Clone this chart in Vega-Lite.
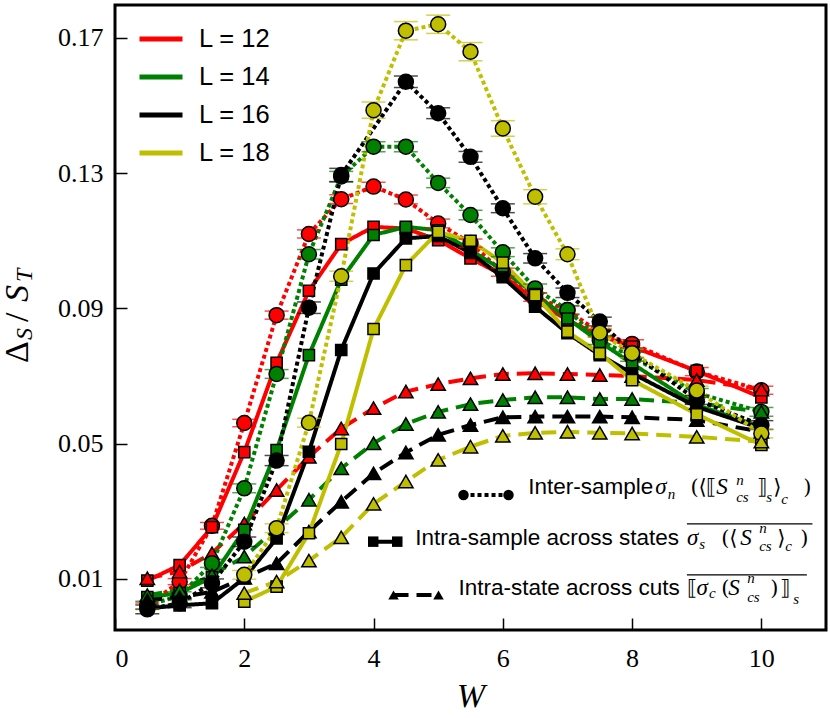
{
  "$schema": "https://vega.github.io/schema/vega-lite/v6.json",
  "width": 711,
  "height": 625,
  "autosize": {"type": "none"},
  "padding": {"left": 115, "top": 5, "right": 4, "bottom": 88},
  "background": "white",
  "config": {
    "view": {"stroke": "black", "strokeWidth": 3},
    "axis": {
      "grid": false, "domain": false,
      "tickColor": "black", "tickWidth": 1.5, "tickSize": -12,
      "labelFont": "'Liberation Serif', 'DejaVu Serif', serif", "labelFontSize": 26, "labelColor": "black",
      "titleFont": "'Liberation Serif', 'DejaVu Serif', serif", "titleColor": "black"
    },
    "legend": {
      "orient": "none", "legendX": 22, "legendY": 10, "title": null, "padding": 0,
      "symbolType": "stroke", "symbolSize": 1849, "symbolStrokeWidth": 5,
      "labelFont": "'Liberation Sans', Arial, sans-serif", "labelFontSize": 25.5, "labelColor": "black",
      "labelOffset": 14, "rowPadding": -6
    }
  },
  "resolve": {"scale": {"size": "independent"}},
  "datasets": {
    "series": [
      {"L":12,"kind":"inter","W":0.5,"v":0.002,"err":0.0009},
      {"L":12,"kind":"inter","W":1,"v":0.0092,"err":0.0009},
      {"L":12,"kind":"inter","W":1.5,"v":0.0257,"err":0.001},
      {"L":12,"kind":"inter","W":2,"v":0.0561,"err":0.0011},
      {"L":12,"kind":"inter","W":2.5,"v":0.088,"err":0.0012},
      {"L":12,"kind":"inter","W":3,"v":0.112,"err":0.0012},
      {"L":12,"kind":"inter","W":3.5,"v":0.1223,"err":0.0013},
      {"L":12,"kind":"inter","W":4,"v":0.126,"err":0.0013},
      {"L":12,"kind":"inter","W":4.5,"v":0.1222,"err":0.0013},
      {"L":12,"kind":"inter","W":5,"v":0.1151,"err":0.0013},
      {"L":12,"kind":"inter","W":5.5,"v":0.1093,"err":0.0012},
      {"L":12,"kind":"inter","W":6,"v":0.1007,"err":0.0012},
      {"L":12,"kind":"inter","W":6.5,"v":0.0933,"err":0.0012},
      {"L":12,"kind":"inter","W":7,"v":0.0895,"err":0.0012},
      {"L":12,"kind":"inter","W":7.5,"v":0.0827,"err":0.0012},
      {"L":12,"kind":"inter","W":8,"v":0.0795,"err":0.0012},
      {"L":12,"kind":"inter","W":9,"v":0.0713,"err":0.0012},
      {"L":12,"kind":"inter","W":10,"v":0.0658,"err":0.0012},
      {"L":12,"kind":"states","W":0.5,"v":0.0095},
      {"L":12,"kind":"states","W":1,"v":0.0141},
      {"L":12,"kind":"states","W":1.5,"v":0.0253},
      {"L":12,"kind":"states","W":2,"v":0.0475},
      {"L":12,"kind":"states","W":2.5,"v":0.0739},
      {"L":12,"kind":"states","W":3,"v":0.0952},
      {"L":12,"kind":"states","W":3.5,"v":0.109},
      {"L":12,"kind":"states","W":4,"v":0.1141},
      {"L":12,"kind":"states","W":4.5,"v":0.1136},
      {"L":12,"kind":"states","W":5,"v":0.1102},
      {"L":12,"kind":"states","W":5.5,"v":0.1048},
      {"L":12,"kind":"states","W":6,"v":0.0998},
      {"L":12,"kind":"states","W":6.5,"v":0.0924},
      {"L":12,"kind":"states","W":7,"v":0.0865},
      {"L":12,"kind":"states","W":7.5,"v":0.082},
      {"L":12,"kind":"states","W":8,"v":0.0787},
      {"L":12,"kind":"states","W":9,"v":0.0715},
      {"L":12,"kind":"states","W":10,"v":0.0637},
      {"L":12,"kind":"cuts","W":0.5,"v":0.0102},
      {"L":12,"kind":"cuts","W":1,"v":0.0122},
      {"L":12,"kind":"cuts","W":1.5,"v":0.0176},
      {"L":12,"kind":"cuts","W":2,"v":0.0264},
      {"L":12,"kind":"cuts","W":2.5,"v":0.0363},
      {"L":12,"kind":"cuts","W":3,"v":0.0461},
      {"L":12,"kind":"cuts","W":3.5,"v":0.0545},
      {"L":12,"kind":"cuts","W":4,"v":0.0605},
      {"L":12,"kind":"cuts","W":4.5,"v":0.0654},
      {"L":12,"kind":"cuts","W":5,"v":0.0676},
      {"L":12,"kind":"cuts","W":5.5,"v":0.0693},
      {"L":12,"kind":"cuts","W":6,"v":0.0706},
      {"L":12,"kind":"cuts","W":6.5,"v":0.0708},
      {"L":12,"kind":"cuts","W":7,"v":0.0706},
      {"L":12,"kind":"cuts","W":7.5,"v":0.0703},
      {"L":12,"kind":"cuts","W":8,"v":0.07},
      {"L":12,"kind":"cuts","W":9,"v":0.0688},
      {"L":12,"kind":"cuts","W":10,"v":0.066},
      {"L":14,"kind":"inter","W":0.5,"v":0.0022,"err":0.0012},
      {"L":14,"kind":"inter","W":1,"v":0.005,"err":0.0012},
      {"L":14,"kind":"inter","W":1.5,"v":0.0146,"err":0.0012},
      {"L":14,"kind":"inter","W":2,"v":0.0368,"err":0.0013},
      {"L":14,"kind":"inter","W":2.5,"v":0.0706,"err":0.0013},
      {"L":14,"kind":"inter","W":3,"v":0.106,"err":0.0014},
      {"L":14,"kind":"inter","W":3.5,"v":0.129,"err":0.0015},
      {"L":14,"kind":"inter","W":4,"v":0.1378,"err":0.0015},
      {"L":14,"kind":"inter","W":4.5,"v":0.1378,"err":0.0015},
      {"L":14,"kind":"inter","W":5,"v":0.1271,"err":0.0014},
      {"L":14,"kind":"inter","W":5.5,"v":0.1176,"err":0.0014},
      {"L":14,"kind":"inter","W":6,"v":0.1066,"err":0.0013},
      {"L":14,"kind":"inter","W":6.5,"v":0.0959,"err":0.0013},
      {"L":14,"kind":"inter","W":7,"v":0.0895,"err":0.0013},
      {"L":14,"kind":"inter","W":7.5,"v":0.0806,"err":0.0013},
      {"L":14,"kind":"inter","W":8,"v":0.0757,"err":0.0013},
      {"L":14,"kind":"inter","W":9,"v":0.065,"err":0.0013},
      {"L":14,"kind":"inter","W":10,"v":0.0594,"err":0.0013},
      {"L":14,"kind":"states","W":0.5,"v":0.0046},
      {"L":14,"kind":"states","W":1,"v":0.0058},
      {"L":14,"kind":"states","W":1.5,"v":0.0105},
      {"L":14,"kind":"states","W":2,"v":0.0245},
      {"L":14,"kind":"states","W":2.5,"v":0.0481},
      {"L":14,"kind":"states","W":3,"v":0.0762},
      {"L":14,"kind":"states","W":3.5,"v":0.0985},
      {"L":14,"kind":"states","W":4,"v":0.1117},
      {"L":14,"kind":"states","W":4.5,"v":0.1141},
      {"L":14,"kind":"states","W":5,"v":0.1131},
      {"L":14,"kind":"states","W":5.5,"v":0.1072},
      {"L":14,"kind":"states","W":6,"v":0.1013},
      {"L":14,"kind":"states","W":6.5,"v":0.0942},
      {"L":14,"kind":"states","W":7,"v":0.087},
      {"L":14,"kind":"states","W":7.5,"v":0.0801},
      {"L":14,"kind":"states","W":8,"v":0.0737},
      {"L":14,"kind":"states","W":9,"v":0.0614},
      {"L":14,"kind":"states","W":10,"v":0.055},
      {"L":14,"kind":"cuts","W":0.5,"v":0.0052},
      {"L":14,"kind":"cuts","W":1,"v":0.0067},
      {"L":14,"kind":"cuts","W":1.5,"v":0.0111},
      {"L":14,"kind":"cuts","W":2,"v":0.0166},
      {"L":14,"kind":"cuts","W":2.5,"v":0.025},
      {"L":14,"kind":"cuts","W":3,"v":0.0334},
      {"L":14,"kind":"cuts","W":3.5,"v":0.0427},
      {"L":14,"kind":"cuts","W":4,"v":0.0501},
      {"L":14,"kind":"cuts","W":4.5,"v":0.0558},
      {"L":14,"kind":"cuts","W":5,"v":0.0594},
      {"L":14,"kind":"cuts","W":5.5,"v":0.0617},
      {"L":14,"kind":"cuts","W":6,"v":0.0629},
      {"L":14,"kind":"cuts","W":6.5,"v":0.0637},
      {"L":14,"kind":"cuts","W":7,"v":0.0637},
      {"L":14,"kind":"cuts","W":7.5,"v":0.0632},
      {"L":14,"kind":"cuts","W":8,"v":0.0632},
      {"L":14,"kind":"cuts","W":9,"v":0.062},
      {"L":14,"kind":"cuts","W":10,"v":0.0594},
      {"L":16,"kind":"inter","W":0.5,"v":0.001,"err":0.0013},
      {"L":16,"kind":"inter","W":1,"v":0.0028,"err":0.0013},
      {"L":16,"kind":"inter","W":1.5,"v":0.0087,"err":0.0013},
      {"L":16,"kind":"inter","W":2,"v":0.021,"err":0.0014},
      {"L":16,"kind":"inter","W":2.5,"v":0.045,"err":0.0015},
      {"L":16,"kind":"inter","W":3,"v":0.0902,"err":0.0017},
      {"L":16,"kind":"inter","W":3.5,"v":0.1294,"err":0.002},
      {"L":16,"kind":"inter","W":4.5,"v":0.157,"err":0.0017},
      {"L":16,"kind":"inter","W":5,"v":0.1477,"err":0.0016},
      {"L":16,"kind":"inter","W":5.5,"v":0.1348,"err":0.0016},
      {"L":16,"kind":"inter","W":6,"v":0.1196,"err":0.0013},
      {"L":16,"kind":"inter","W":6.5,"v":0.1048,"err":0.0014},
      {"L":16,"kind":"inter","W":7,"v":0.0946,"err":0.0014},
      {"L":16,"kind":"inter","W":7.5,"v":0.0861,"err":0.0013},
      {"L":16,"kind":"inter","W":8,"v":0.0768,"err":0.0013},
      {"L":16,"kind":"inter","W":9,"v":0.0629,"err":0.0013},
      {"L":16,"kind":"inter","W":10,"v":0.0555,"err":0.0013},
      {"L":16,"kind":"states","W":0.5,"v":0.0013},
      {"L":16,"kind":"states","W":1,"v":0.0022},
      {"L":16,"kind":"states","W":1.5,"v":0.0028},
      {"L":16,"kind":"states","W":2,"v":0.0102},
      {"L":16,"kind":"states","W":2.5,"v":0.022},
      {"L":16,"kind":"states","W":3,"v":0.0476},
      {"L":16,"kind":"states","W":3.5,"v":0.0777},
      {"L":16,"kind":"states","W":4,"v":0.1003},
      {"L":16,"kind":"states","W":4.5,"v":0.1107},
      {"L":16,"kind":"states","W":5,"v":0.1114},
      {"L":16,"kind":"states","W":5.5,"v":0.1064},
      {"L":16,"kind":"states","W":6,"v":0.0992},
      {"L":16,"kind":"states","W":6.5,"v":0.0905},
      {"L":16,"kind":"states","W":7,"v":0.0827},
      {"L":16,"kind":"states","W":7.5,"v":0.0762},
      {"L":16,"kind":"states","W":8,"v":0.0708},
      {"L":16,"kind":"states","W":9,"v":0.0609},
      {"L":16,"kind":"states","W":10,"v":0.0545},
      {"L":16,"kind":"cuts","W":0.5,"v":0.0037},
      {"L":16,"kind":"cuts","W":1,"v":0.0046},
      {"L":16,"kind":"cuts","W":1.5,"v":0.0062},
      {"L":16,"kind":"cuts","W":2,"v":0.0103},
      {"L":16,"kind":"cuts","W":2.5,"v":0.0146},
      {"L":16,"kind":"cuts","W":3,"v":0.024},
      {"L":16,"kind":"cuts","W":3.5,"v":0.0328},
      {"L":16,"kind":"cuts","W":4,"v":0.0412},
      {"L":16,"kind":"cuts","W":4.5,"v":0.0474},
      {"L":16,"kind":"cuts","W":5,"v":0.0526},
      {"L":16,"kind":"cuts","W":5.5,"v":0.0555},
      {"L":16,"kind":"cuts","W":6,"v":0.0578},
      {"L":16,"kind":"cuts","W":6.5,"v":0.058},
      {"L":16,"kind":"cuts","W":7,"v":0.058},
      {"L":16,"kind":"cuts","W":7.5,"v":0.058},
      {"L":16,"kind":"cuts","W":8,"v":0.0578},
      {"L":16,"kind":"cuts","W":9,"v":0.057},
      {"L":16,"kind":"cuts","W":10,"v":0.0535},
      {"L":18,"kind":"inter","W":2,"v":0.0112,"err":0.0013},
      {"L":18,"kind":"inter","W":2.5,"v":0.025,"err":0.0013},
      {"L":18,"kind":"inter","W":3,"v":0.0562,"err":0.0013},
      {"L":18,"kind":"inter","W":3.5,"v":0.0995,"err":0.0015},
      {"L":18,"kind":"inter","W":4,"v":0.1486,"err":0.0024},
      {"L":18,"kind":"inter","W":4.5,"v":0.1721,"err":0.0027},
      {"L":18,"kind":"inter","W":5,"v":0.174,"err":0.0027},
      {"L":18,"kind":"inter","W":5.5,"v":0.1659,"err":0.0027},
      {"L":18,"kind":"inter","W":6,"v":0.1432,"err":0.0023},
      {"L":18,"kind":"inter","W":6.5,"v":0.123,"err":0.0021},
      {"L":18,"kind":"inter","W":7,"v":0.106,"err":0.0016},
      {"L":18,"kind":"inter","W":7.5,"v":0.0828,"err":0.0013},
      {"L":18,"kind":"inter","W":8,"v":0.0767,"err":0.0013},
      {"L":18,"kind":"inter","W":9,"v":0.0657,"err":0.0013},
      {"L":18,"kind":"inter","W":10,"v":0.053,"err":0.0013},
      {"L":18,"kind":"states","W":2,"v":0.0033},
      {"L":18,"kind":"states","W":2.5,"v":0.0077},
      {"L":18,"kind":"states","W":3,"v":0.0235},
      {"L":18,"kind":"states","W":3.5,"v":0.0499},
      {"L":18,"kind":"states","W":4,"v":0.0839},
      {"L":18,"kind":"states","W":4.5,"v":0.1028},
      {"L":18,"kind":"states","W":5,"v":0.1126},
      {"L":18,"kind":"states","W":5.5,"v":0.11},
      {"L":18,"kind":"states","W":6,"v":0.1035},
      {"L":18,"kind":"states","W":6.5,"v":0.0939},
      {"L":18,"kind":"states","W":7,"v":0.0831},
      {"L":18,"kind":"states","W":7.5,"v":0.0767},
      {"L":18,"kind":"states","W":8,"v":0.0688},
      {"L":18,"kind":"states","W":9,"v":0.0587},
      {"L":18,"kind":"states","W":10,"v":0.0496},
      {"L":18,"kind":"cuts","W":2,"v":0.0058},
      {"L":18,"kind":"cuts","W":2.5,"v":0.0092},
      {"L":18,"kind":"cuts","W":3,"v":0.0154},
      {"L":18,"kind":"cuts","W":3.5,"v":0.0223},
      {"L":18,"kind":"cuts","W":4,"v":0.0322},
      {"L":18,"kind":"cuts","W":4.5,"v":0.0388},
      {"L":18,"kind":"cuts","W":5,"v":0.0452},
      {"L":18,"kind":"cuts","W":5.5,"v":0.0491},
      {"L":18,"kind":"cuts","W":6,"v":0.0523},
      {"L":18,"kind":"cuts","W":6.5,"v":0.0532},
      {"L":18,"kind":"cuts","W":7,"v":0.0535},
      {"L":18,"kind":"cuts","W":7.5,"v":0.0532},
      {"L":18,"kind":"cuts","W":8,"v":0.053},
      {"L":18,"kind":"cuts","W":9,"v":0.052},
      {"L":18,"kind":"cuts","W":10,"v":0.0506}
    ],
    "keySamples": [
      {"kind":"inter","W":5.392,"v":0.03482},
      {"kind":"inter","W":6.088,"v":0.03482},
      {"kind":"states","W":3.995,"v":0.02102},
      {"kind":"states","W":4.367,"v":0.02102},
      {"kind":"cuts","W":4.309,"v":0.00526},
      {"kind":"cuts","W":5.005,"v":0.00526}
    ],
    "keyLabels": [
      {"text":"Inter-sample","W":6.393,"v":0.03512},
      {"text":"Intra-sample across states","W":4.645,"v":0.02004},
      {"text":"Intra-state across cuts","W":5.315,"v":0.00526}
    ],
    "mathLetters": [
      {"text":"σ","level":"main","W":8.36,"v":0.03512},
      {"text":"n","level":"script","W":8.55,"v":0.03364},
      {"text":"S","level":"main","W":9.301,"v":0.03512},
      {"text":"n","level":"script","W":9.61,"v":0.03778},
      {"text":"cs","level":"script","W":9.61,"v":0.03284},
      {"text":"s","level":"script","W":10.074,"v":0.03284},
      {"text":"c","level":"script","W":10.306,"v":0.03216},
      {"text":"σ","level":"main","W":8.848,"v":0.02004},
      {"text":"s","level":"script","W":9.038,"v":0.01886},
      {"text":"S","level":"main","W":9.672,"v":0.02004},
      {"text":"n","level":"script","W":9.966,"v":0.02359},
      {"text":"cs","level":"script","W":9.966,"v":0.01836},
      {"text":"c","level":"script","W":10.368,"v":0.01836},
      {"text":"σ","level":"main","W":8.995,"v":0.00526},
      {"text":"c","level":"script","W":9.19,"v":0.00437},
      {"text":"S","level":"main","W":9.486,"v":0.00526},
      {"text":"n","level":"script","W":9.78,"v":0.00881},
      {"text":"cs","level":"script","W":9.78,"v":0.00328},
      {"text":"s","level":"script","W":10.492,"v":0.0026}
    ],
    "mathBrackets": [
      {"text":"(","W":8.903,"v":0.03512},
      {"text":"⟨","W":9.026,"v":0.03512},
      {"text":"⟦","W":9.15,"v":0.03512},
      {"text":"⟧","W":9.935,"v":0.03512},
      {"text":"⟩","W":10.182,"v":0.03512},
      {"text":")","W":10.647,"v":0.03512},
      {"text":"(","W":9.378,"v":0.02004},
      {"text":"⟨","W":9.502,"v":0.02004},
      {"text":"⟩","W":10.245,"v":0.02004},
      {"text":")","W":10.6,"v":0.02004},
      {"text":"⟦","W":8.848,"v":0.00526},
      {"text":"(","W":9.378,"v":0.00526},
      {"text":")","W":10.136,"v":0.00526},
      {"text":"⟧","W":10.291,"v":0.00526}
    ],
    "overlines": [
      {"W":8.848,"W2":10.79,"v":0.02625},
      {"W":8.848,"W2":10.704,"v":0.01117}
    ],
    "yTitleUpright": [
      {"text":"Δ","W":-1.341,"v":0.07384},
      {"text":"/","W":-1.341,"v":0.08596}
    ],
    "yTitleItalic": [
      {"text":"S","level":"script","W":-1.279,"v":0.08064},
      {"text":"S","level":"main","W":-1.341,"v":0.09187},
      {"text":"T","level":"script","W":-1.279,"v":0.09778}
    ]
  },
  "encoding": {
    "x": {
      "field": "W", "type": "quantitative",
      "scale": {"domain": [0, 11], "nice": false, "zero": false},
      "axis": {"values": [0, 2, 4, 6, 8, 10], "labelPadding": 27, "title": "W",
               "titleFontStyle": "italic", "titleFontWeight": "normal", "titleFontSize": 34, "titlePadding": 8}
    },
    "y": {
      "field": "v", "type": "quantitative",
      "scale": {"domain": [-0.0051, 0.1797], "nice": false, "zero": false},
      "axis": {"values": [0.01, 0.05, 0.09, 0.13, 0.17], "format": ".2f", "title": null, "labelPadding": 24}
    }
  },
  "layer": [
    {
      "data": {"name": "series"},
      "mark": {"type": "line", "strokeWidth": 4, "strokeCap": "butt"},
      "encoding": {
        "color": {"field": "L", "type": "nominal",
                  "scale": {"domain": [12, 14, 16, 18], "range": ["#ff0000", "#008000", "#000000", "#bfbf00"]},
                  "legend": {"labelExpr": "'L = ' + datum.label"}},
        "strokeDash": {"field": "kind", "type": "nominal",
                       "scale": {"domain": ["inter", "states", "cuts"], "range": [[4, 3], [1, 0], [15, 8]]},
                       "legend": null}
      }
    },
    {
      "data": {"name": "series"},
      "transform": [{"filter": "datum.kind === 'inter'"}],
      "mark": {"type": "errorbar", "ticks": {"size": 24, "thickness": 1.5}, "rule": {"strokeWidth": 1.5}},
      "encoding": {
        "yError": {"field": "err"},
        "color": {"field": "L", "type": "nominal", "legend": null}
      }
    },
    {
      "data": {"name": "series"},
      "mark": {"type": "point", "filled": true, "opacity": 1, "stroke": "black", "strokeWidth": 1.5},
      "encoding": {
        "color": {"field": "L", "type": "nominal", "legend": null},
        "shape": {"field": "kind", "type": "nominal",
                  "scale": {"domain": ["inter", "states", "cuts"], "range": ["circle", "square", "triangle-up"]},
                  "legend": null},
        "size": {"field": "kind", "type": "nominal",
                 "scale": {"type": "ordinal", "domain": ["inter", "states", "cuts"], "range": [225, 125, 205]},
                 "legend": null}
      }
    },
    {
      "data": {"name": "keySamples"},
      "mark": {"type": "line", "strokeWidth": 4, "color": "black", "strokeCap": "butt"},
      "encoding": {
        "strokeDash": {"field": "kind", "type": "nominal", "legend": null}
      }
    },
    {
      "data": {"name": "keySamples"},
      "mark": {"type": "point", "filled": true, "opacity": 1, "color": "black", "size": 110},
      "encoding": {
        "shape": {"field": "kind", "type": "nominal", "legend": null}
      }
    },
    {
      "data": {"name": "keyLabels"},
      "mark": {"type": "text", "align": "left", "baseline": "alphabetic", "font": "'Liberation Sans', Arial, sans-serif", "fontSize": 22.5, "color": "black"},
      "encoding": {"text": {"field": "text"}}
    },
    {
      "data": {"name": "mathLetters"},
      "mark": {"type": "text", "align": "left", "baseline": "alphabetic", "font": "'Liberation Serif', 'DejaVu Serif', serif", "fontStyle": "italic", "color": "black"},
      "encoding": {
        "text": {"field": "text"},
        "size": {"field": "level", "type": "nominal", "scale": {"type": "ordinal", "domain": ["main", "script"], "range": [23, 15]}, "legend": null}
      }
    },
    {
      "data": {"name": "mathBrackets"},
      "mark": {"type": "text", "align": "left", "baseline": "alphabetic", "font": "'DejaVu Serif', serif", "fontSize": 21, "color": "black"},
      "encoding": {"text": {"field": "text"}}
    },
    {
      "data": {"name": "overlines"},
      "mark": {"type": "rule", "strokeWidth": 1.2, "color": "black"},
      "encoding": {"x2": {"field": "W2"}}
    },
    {
      "data": {"name": "yTitleUpright"},
      "mark": {"type": "text", "align": "left", "baseline": "alphabetic", "angle": 270, "font": "'Liberation Serif', 'DejaVu Serif', serif", "fontSize": 34, "color": "black"},
      "encoding": {"text": {"field": "text"}}
    },
    {
      "data": {"name": "yTitleItalic"},
      "mark": {"type": "text", "align": "left", "baseline": "alphabetic", "angle": 270, "font": "'Liberation Serif', 'DejaVu Serif', serif", "fontStyle": "italic", "color": "black"},
      "encoding": {
        "text": {"field": "text"},
        "size": {"field": "level", "type": "nominal", "scale": {"type": "ordinal", "domain": ["main", "script"], "range": [34, 24]}, "legend": null}
      }
    }
  ]
}
